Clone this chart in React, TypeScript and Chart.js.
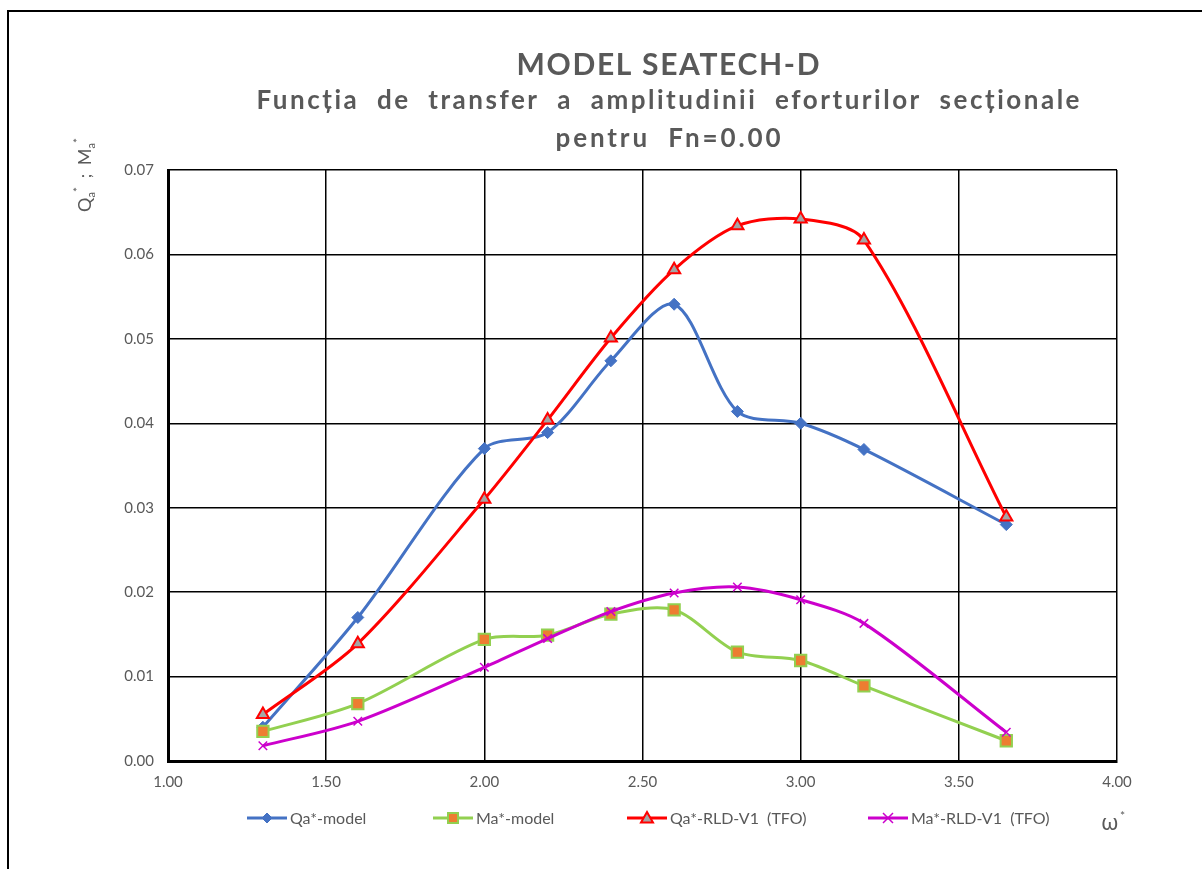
import React, { useEffect, useRef } from 'react';
import { Chart, registerables } from 'chart.js';
Chart.register(...registerables);

// ---- data ----
const omega = [1.3, 1.6, 2.0, 2.2, 2.4, 2.6, 2.8, 3.0, 3.2, 3.65];
const qaModel = [0.0040, 0.0170, 0.0370, 0.0389, 0.0474, 0.0541, 0.0414, 0.0400, 0.0369, 0.0280];
const maModel = [0.0035, 0.0068, 0.0144, 0.0149, 0.0174, 0.0179, 0.0129, 0.0119, 0.0089, 0.0024];
const qaRld = [0.0055, 0.0139, 0.0310, 0.0404, 0.0501, 0.0582, 0.0634, 0.0642, 0.0617, 0.0289];
const maRld = [0.0018, 0.0047, 0.0111, 0.0145, 0.0177, 0.0199, 0.0206, 0.0191, 0.0163, 0.0034];
const seriesNames = ['Qa*-model', 'Ma*-model', 'Qa*-RLD-V1  (TFO)', 'Ma*-RLD-V1  (TFO)'];
const titleLines = [
  'MODEL SEATECH-D',
  'Funcția  de  transfer  a  amplitudinii  eforturilor  secționale',
  'pentru  Fn=0.00',
];

const GRAY = '#595959';
const BLUE = '#4472C4';
const GREEN = '#92D050';
const ORANGE = '#ED7D31';
const RED = '#FF0000';
const TRI_FILL = '#A5A5A5';
const MAGENTA = '#CC00CC';
const FONT = 'Lato, "Open Sans", "DejaVu Sans", sans-serif';

type MarkerKind = 'diamond' | 'square' | 'triangle' | 'cross';

function drawMarker(ctx: CanvasRenderingContext2D, kind: MarkerKind, x: number, y: number, r: number, fill: string, stroke: string, bw: number) {
  ctx.save();
  ctx.beginPath();
  if (kind === 'diamond') {
    ctx.moveTo(x, y - r); ctx.lineTo(x + r, y); ctx.lineTo(x, y + r); ctx.lineTo(x - r, y); ctx.closePath();
  } else if (kind === 'square') {
    ctx.rect(x - r, y - r, 2 * r, 2 * r);
  } else if (kind === 'triangle') {
    ctx.moveTo(x, y - r); ctx.lineTo(x + r, y + r * 0.75); ctx.lineTo(x - r, y + r * 0.75); ctx.closePath();
  }
  if (kind === 'cross') {
    ctx.moveTo(x - r, y - r); ctx.lineTo(x + r, y + r);
    ctx.moveTo(x + r, y - r); ctx.lineTo(x - r, y + r);
    ctx.strokeStyle = stroke; ctx.lineWidth = bw; ctx.stroke();
  } else {
    ctx.fillStyle = fill; ctx.fill();
    ctx.strokeStyle = stroke; ctx.lineWidth = bw; ctx.stroke();
  }
  ctx.restore();
}

function drawSpaced(ctx: CanvasRenderingContext2D, text: string, cx: number, baseline: number, width: number, font: string) {
  const c = ctx as any;
  ctx.font = font;
  c.letterSpacing = '0px';
  const w0 = ctx.measureText(text).width;
  const n = Array.from(text).length;
  const ls = (width - w0) / Math.max(1, n - 1);
  c.letterSpacing = ls + 'px';
  ctx.textAlign = 'left';
  ctx.textBaseline = 'alphabetic';
  ctx.fillStyle = GRAY;
  ctx.fillText(text, cx - width / 2, baseline);
  c.letterSpacing = '0px';
}

const legendItems: { x: number; color: string; kind: MarkerKind; fill: string; stroke: string; r: number; bw: number }[] = [
  { x: 247, color: BLUE, kind: 'diamond', fill: BLUE, stroke: BLUE, r: 5, bw: 1 },
  { x: 433, color: GREEN, kind: 'square', fill: ORANGE, stroke: GREEN, r: 5, bw: 2 },
  { x: 627, color: RED, kind: 'triangle', fill: TRI_FILL, stroke: RED, r: 6, bw: 2 },
  { x: 868, color: MAGENTA, kind: 'cross', fill: MAGENTA, stroke: MAGENTA, r: 5, bw: 1.5 },
];

const overlayPlugin = {
  id: 'overlay',
  afterDraw(chart: any) {
    const ctx: CanvasRenderingContext2D = chart.ctx;
    ctx.save();
    // titles
    drawSpaced(ctx, titleLines[0], 668, 75, 303, `bold 30px ${FONT}`);
    drawSpaced(ctx, titleLines[1], 668, 109, 823, `bold 26px ${FONT}`);
    drawSpaced(ctx, titleLines[2], 668, 147, 225, `bold 26px ${FONT}`);

    // legend
    legendItems.forEach((it, i) => {
      const y = 818;
      ctx.beginPath();
      ctx.moveTo(it.x, y); ctx.lineTo(it.x + 40, y);
      ctx.strokeStyle = it.color; ctx.lineWidth = 3; ctx.stroke();
      drawMarker(ctx, it.kind, it.x + 20, y, it.r, it.fill, it.stroke, it.bw);
      ctx.font = `16px ${FONT}`;
      ctx.fillStyle = GRAY;
      ctx.textAlign = 'left';
      ctx.textBaseline = 'middle';
      ctx.fillText(seriesNames[i], it.x + 43, y + 1);
    });

    // y axis title (rotated, with subscripts/superscripts)
    ctx.save();
    ctx.translate(91, 212);
    ctx.rotate(-Math.PI / 2);
    ctx.fillStyle = GRAY;
    ctx.textAlign = 'left';
    ctx.textBaseline = 'alphabetic';
    const segs = [
      { t: 'Q', s: 18, dy: 0 },
      { t: 'a', s: 11, dy: 4 },
      { t: '*', s: 12, dy: -9 },
      { t: '  ;  ', s: 17, dy: 0 },
      { t: 'M', s: 18, dy: 0 },
      { t: 'a', s: 11, dy: 4 },
      { t: '*', s: 12, dy: -9 },
    ];
    let xx = 0;
    segs.forEach((sg) => {
      ctx.font = `${sg.s}px ${FONT}`;
      ctx.fillText(sg.t, xx, sg.dy);
      xx += ctx.measureText(sg.t).width;
    });
    ctx.restore();

    // x axis title ω*
    ctx.fillStyle = GRAY;
    ctx.textAlign = 'left';
    ctx.textBaseline = 'alphabetic';
    ctx.font = `22px "Noto Sans", "DejaVu Sans", sans-serif`;
    ctx.fillText('ω', 1101, 830);
    ctx.font = `12px ${FONT}`;
    ctx.fillText('*', 1120, 820);

    ctx.restore();
  },
};

export default function App() {
  const ref = useRef<HTMLCanvasElement | null>(null);

  useEffect(() => {
    if (!ref.current) return;
    const mk = (vals: number[]) => omega.map((x, i) => ({ x, y: vals[i] }));
    const tickFont = { family: FONT, size: 15 };
    const T = 0.3;
    const chart = new Chart(ref.current, {
      type: 'line',
      data: {
        datasets: [
          {
            label: seriesNames[0], data: mk(qaModel), borderColor: BLUE, backgroundColor: BLUE, borderWidth: 3,
            pointStyle: 'rectRot', pointRadius: 6, pointBackgroundColor: BLUE, pointBorderColor: BLUE, pointBorderWidth: 1,
            tension: T, order: 4,
          },
          {
            label: seriesNames[1], data: mk(maModel), borderColor: GREEN, backgroundColor: ORANGE, borderWidth: 3,
            pointStyle: 'rect', pointRadius: 8, pointBackgroundColor: ORANGE, pointBorderColor: GREEN, pointBorderWidth: 2,
            tension: T, order: 3,
          },
          {
            label: seriesNames[2], data: mk(qaRld), borderColor: RED, backgroundColor: TRI_FILL, borderWidth: 3,
            pointStyle: 'triangle', pointRadius: 7, pointBackgroundColor: TRI_FILL, pointBorderColor: RED, pointBorderWidth: 2,
            tension: T, order: 2,
          },
          {
            label: seriesNames[3], data: mk(maRld), borderColor: MAGENTA, backgroundColor: MAGENTA, borderWidth: 3,
            pointStyle: 'crossRot', pointRadius: 6, pointBackgroundColor: MAGENTA, pointBorderColor: MAGENTA, pointBorderWidth: 1.5,
            tension: T, order: 1,
          },
        ],
      },
      options: {
        responsive: false,
        animation: false,
        devicePixelRatio: 1,
        layout: { padding: { left: 0, top: 170, right: 85, bottom: 0 } },
        plugins: { legend: { display: false }, title: { display: false }, tooltip: { enabled: false } },
        scales: {
          x: {
            type: 'linear', min: 1, max: 4,
            ticks: { stepSize: 0.5, callback: (v: any) => Number(v).toFixed(2), color: GRAY, font: tickFont, padding: 12, maxRotation: 0 },
            grid: { color: '#000', lineWidth: 1.5, drawTicks: false },
            border: { color: '#000', width: 3 },
            afterFit: (s: any) => { s.height = 108; },
          },
          y: {
            min: 0, max: 0.07,
            ticks: { stepSize: 0.01, callback: (v: any) => Number(v).toFixed(2), color: GRAY, font: tickFont, padding: 14 },
            grid: { color: '#000', lineWidth: 1.5, drawTicks: false },
            border: { color: '#000', width: 3 },
            afterFit: (s: any) => { s.width = 168; },
          },
        },
      } as any,
      plugins: [overlayPlugin],
    });
    return () => chart.destroy();
  }, []);

  return (
    <div style={{ position: 'absolute', left: 0, top: 0, width: 1202, height: 869, overflow: 'hidden', background: '#fff' }}>
      <div style={{ position: 'absolute', left: 7, top: 10, width: 1400, height: 1000, border: '2px solid #000' }} />
      <canvas ref={ref} width={1202} height={869} style={{ position: 'absolute', left: 0, top: 0, width: 1202, height: 869 }} />
    </div>
  );
}
